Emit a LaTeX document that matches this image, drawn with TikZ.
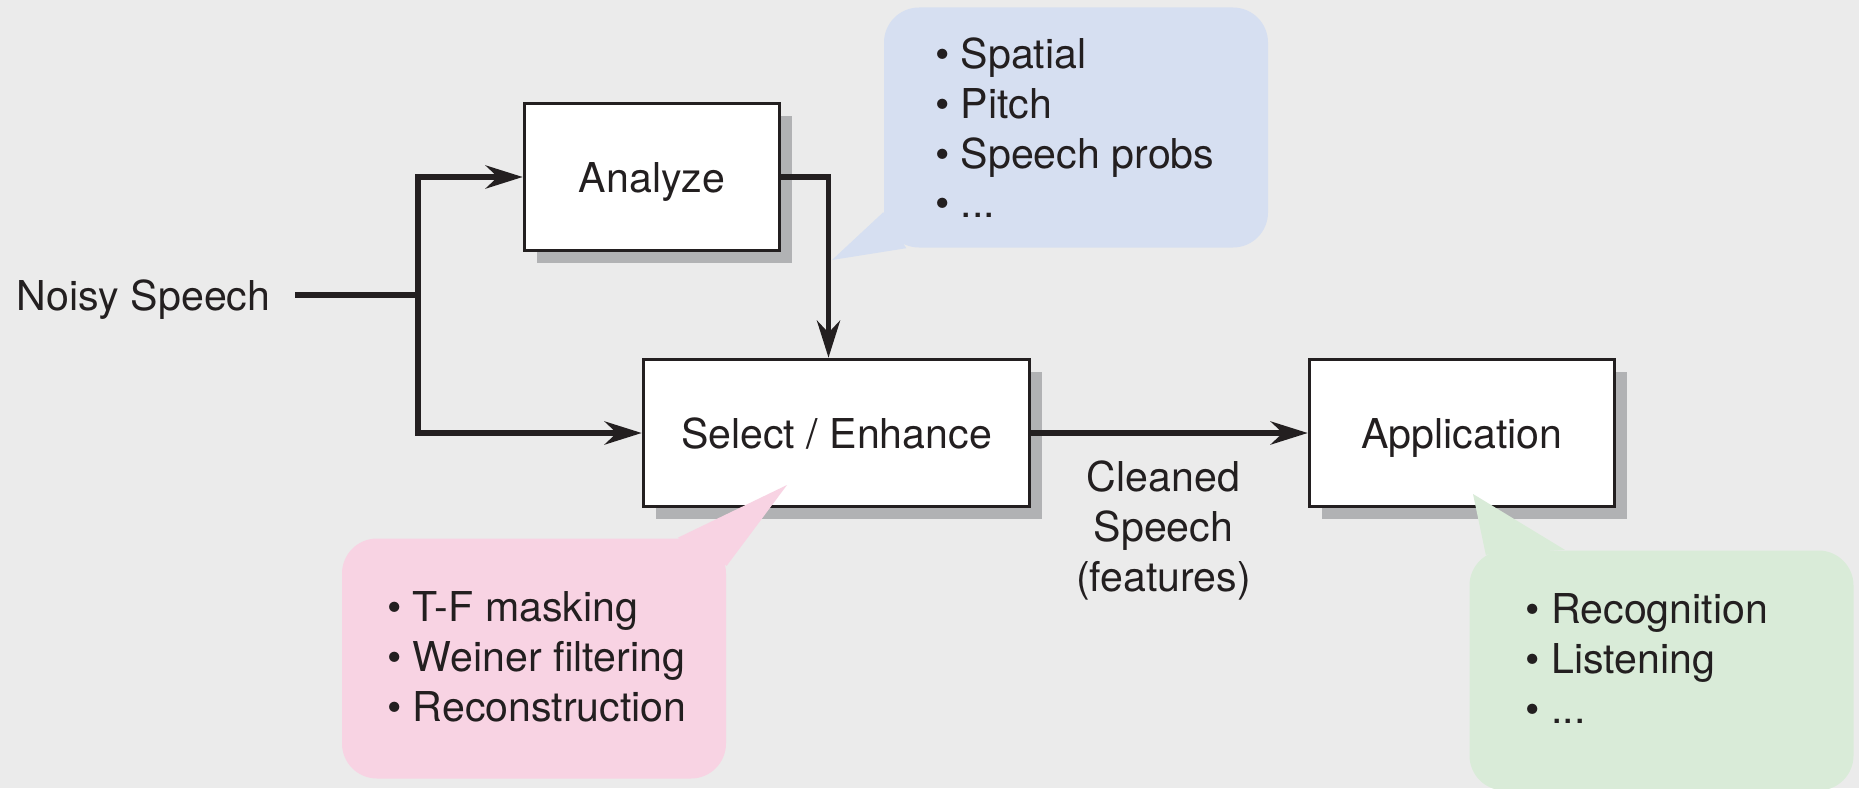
\documentclass[tikz,border=0pt]{standalone}
\usepackage{fontspec}
\setmainfont{TeX Gyre Heros}
\usetikzlibrary{positioning,arrows.meta,shadows}

\definecolor{paper}{HTML}{EBEBEB}
\definecolor{ink}{HTML}{231F20}
\definecolor{shade}{HTML}{B1B2B4}
\definecolor{bluebg}{HTML}{D6DFF1}
\definecolor{pinkbg}{HTML}{F8D3E3}
\definecolor{greenbg}{HTML}{D9EBD8}

\begin{document}
\begin{tikzpicture}[
  font=\fontsize{11.7}{14.2}\selectfont, text=ink,
  block/.style={draw=ink, line width=1pt, fill=white, minimum height=1.47cm,
    text height=0.3cm, text depth=0pt,
    drop shadow={shadow xshift=0.12cm, shadow yshift=-0.12cm, fill=shade, opacity=1}},
  bubble/.style={rounded corners=0.35cm, minimum width=3.84cm, minimum height=2.4cm, inner sep=0pt},
  note/.style={align=left, anchor=north west, inner sep=0pt},
  link/.style={draw=ink, line width=1.7pt},
  flow/.style={link, -{Stealth[length=0.37cm, width=0.23cm, inset=0.12cm]}}
]
\fill[paper] (0,0) rectangle (18.59,-7.88);
\useasboundingbox (0,0) rectangle (18.59,-7.88);

% processing blocks
\node[block, minimum width=2.55cm] (ana) at (6.52,-1.77) {Analyze};
\node[block, minimum width=3.86cm] (sel) at (8.365,-4.33) {Select / Enhance};
\node[block, minimum width=3.05cm] (app) at (14.62,-4.33) {Application};

\node[anchor=west, inner sep=0pt, text height=0.3cm, text depth=0pt] (noisy) at (0.16,-2.95) {Noisy Speech};
\coordinate (split) at (4.18,-2.95);

% speech bubbles
\node[bubble, fill=bluebg] (cues) at (10.76,-1.275) {};
\fill[bluebg] ([yshift=0.36cm]cues.south west) -- (8.32,-2.60) -- ([xshift=0.23cm]cues.south west) -- cycle;
\node[note] (cuestext) at ([xshift=0.51cm, yshift=-0.30cm]cues.north west) {• Spatial\\• Pitch\\• Speech probs\\• ...};

\node[bubble, fill=pinkbg] (ops) at (5.34,-6.585) {};
\fill[pinkbg] ([xshift=-0.49cm]ops.north east) -- (7.87,-4.85) -- ([yshift=-0.28cm]ops.north east) -- cycle;
\node[note] (opstext) at ([xshift=0.45cm, yshift=-0.53cm]ops.north west) {• T-F masking\\• Weiner filtering\\• Reconstruction};

\node[bubble, fill=greenbg] (uses) at (16.615,-6.705) {};
\fill[greenbg] ([xshift=0.17cm,yshift=-0.05cm]uses.north west) -- (14.73,-4.94) -- ([xshift=0.96cm]uses.north west) -- cycle;
\node[note] (usestext) at ([xshift=0.56cm, yshift=-0.43cm]uses.north west) {• Recognition\\• Listening\\• ...};

% signal flow
\draw[link, shorten <=0.24cm] (noisy.east) -- (split);
\draw[flow] (split) |- (ana.west);
\draw[flow] (split) |- (sel.west);
\draw[flow] (ana.east) -| ([xshift=-0.08cm]sel.north);
\draw[flow] (sel.east) -- node[below=0.25cm, xshift=-0.06cm, align=center, inner sep=0pt] (clean) {Cleaned\\Speech\\(features)} (app.west);

\end{tikzpicture}
\end{document}
